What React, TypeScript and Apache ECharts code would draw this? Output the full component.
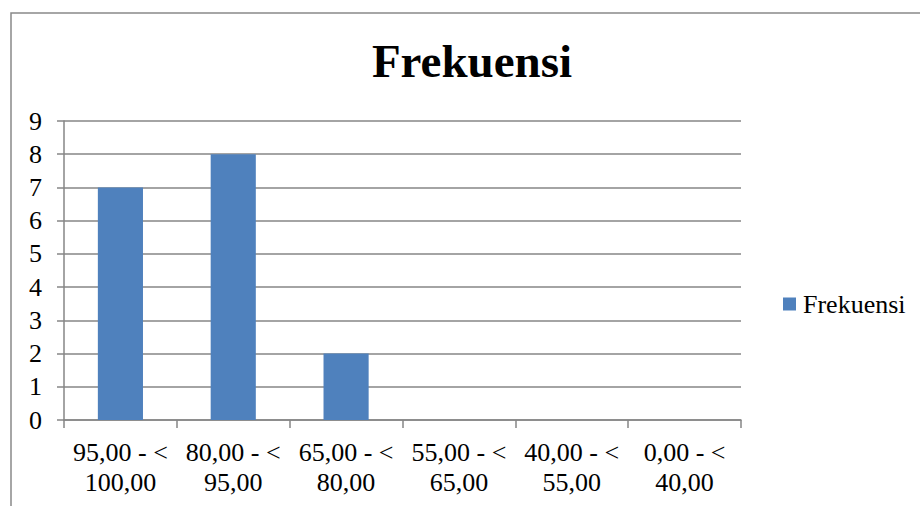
import React, { useEffect, useRef } from "react";
import * as echarts from "echarts";

const categories = [
  "95,00 - <\n100,00",
  "80,00 - <\n95,00",
  "65,00 - <\n80,00",
  "55,00 - <\n65,00",
  "40,00 - <\n55,00",
  "0,00 - <\n40,00",
];
const frekuensi = [7, 8, 2, 0, 0, 0];
const seriesName = "Frekuensi";
const titleText = "Frekuensi";

export default function App() {
  const ref = useRef<HTMLDivElement>(null);
  useEffect(() => {
    if (!ref.current) return;
    const chart = echarts.init(ref.current, null, { renderer: "svg" });
    const font = "Liberation Serif";
    chart.setOption({
      animation: false,
      backgroundColor: "#ffffff",
      title: {
        text: titleText,
        left: 467,
        top: 32,
        textAlign: "center",
        textStyle: { fontFamily: font, fontSize: 47, fontWeight: "bold", color: "#000" },
      },
      legend: {
        data: [seriesName],
        left: 778,
        top: 286,
        itemWidth: 13,
        itemHeight: 13,
        itemGap: 6,
        icon: "rect",
        textStyle: { fontFamily: font, fontSize: 26, color: "#000", padding: [0, 0, 0, 2] },
      },
      grid: { left: 64, right: 179, top: 121, bottom: 86, containLabel: false },
      xAxis: {
        type: "category",
        data: categories,
        boundaryGap: true,
        axisLine: { lineStyle: { color: "#868686", width: 1.5 } },
        axisTick: { show: true, length: 8, lineStyle: { color: "#868686", width: 1.5 } },
        axisLabel: {
          interval: 0,
          margin: 17,
          fontFamily: font,
          fontSize: 26,
          lineHeight: 30,
          color: "#000",
        },
      },
      yAxis: {
        type: "value",
        min: 0,
        max: 9,
        interval: 1,
        axisLine: { show: true, lineStyle: { color: "#868686", width: 1.5 } },
        axisTick: { show: true, length: 7, lineStyle: { color: "#868686", width: 1.5 } },
        axisLabel: { margin: 22, fontFamily: font, fontSize: 26, color: "#000" },
        splitLine: { show: true, lineStyle: { color: "#868686", width: 1.5 } },
      },
      series: [
        {
          name: seriesName,
          type: "bar",
          data: frekuensi,
          barWidth: "40%",
          itemStyle: { color: "#4F81BD" },
        },
      ],
      graphic: [
        {
          type: "rect",
          shape: { x: 11, y: 13, width: 1000, height: 600 },
          style: { fill: "none", stroke: "#898989", lineWidth: 1.5 },
          silent: true,
        },
      ],
    });
    return () => chart.dispose();
  }, []);
  return (
    <div
      ref={ref}
      style={{ position: "fixed", left: 0, top: 0, width: 920, height: 506 }}
    />
  );
}
